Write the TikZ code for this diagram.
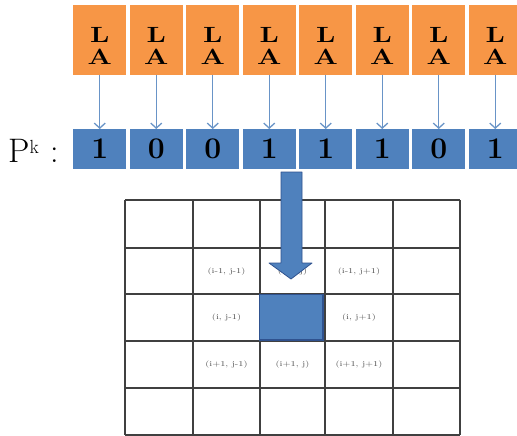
\documentclass[tikz,border=0pt]{standalone}
\usetikzlibrary{arrows.meta}
\definecolor{laorange}{HTML}{F79646}
\definecolor{bitblue}{HTML}{4F81BD}
\definecolor{bitedge}{HTML}{2F528F}
\definecolor{gridgray}{HTML}{404040}
\definecolor{labgray}{HTML}{555555}
\tikzset{
  labox/.style={fill=laorange, draw=none, minimum width=53pt, minimum height=70pt,
    inner sep=0pt, outer sep=0pt},
  latext/.style={inner sep=0pt, anchor=base, font=\fontsize{22}{22}\selectfont\bfseries},
  bitbox/.style={fill=bitblue, draw=none, minimum width=53pt, minimum height=40pt,
    inner sep=0pt, outer sep=0pt, font=\fontsize{30}{30}\selectfont\bfseries},
  feed/.style={draw=bitblue!85!white, line width=1.3pt, -{Straight Barb[length=5pt,width=11pt]}},
  gridline/.style={draw=gridgray, line width=1.3pt},
  cellab/.style={text=labgray, inner sep=0pt, font=\fontsize{7.5}{8}\selectfont},
  bigarrow/.style={fill=bitblue, draw=bitedge, line width=0.8pt, line join=round},
  centercell/.style={fill=bitblue, draw=bitedge, line width=1.5pt}
}
\newcommand{\wide}[1]{\scalebox{1.3}[1]{#1}}
\newcommand{\broad}[1]{\scalebox{1.3}[1]{#1}}
\begin{document}
\begin{tikzpicture}[x=1pt,y=-1pt]
\clip (0,0) rectangle (517,436);
\fill[white] (0,0) rectangle (517,436);

% learning-automata row and the bit vector P^k
\foreach \b [count=\i from 0] in {1,0,0,1,1,1,0,1} {
  \pgfmathsetmacro{\cx}{73+\i*56.5+26.75}
  \node[labox] (o\i) at (\cx,40) {};
  \node[latext] (l\i) at (\cx,43) {\broad{L}};
  \node[latext] (a\i) at (\cx,65) {\broad{A}};
  \node[bitbox] (b\i) at (\cx,149) {\b};
  \draw[feed] (o\i.south) -- (b\i.north);
}
\node[anchor=west, inner sep=0pt] (pk) at (8,151)
  {\fontsize{34}{36}\selectfont P\raisebox{0.28em}{\fontsize{19}{20}\selectfont k}\,\,:};

% 5x5 neighbourhood grid
\foreach \x in {125,193,260,325,393,460} \draw[gridline] (\x,200) -- (\x,435);
\foreach \y in {200,248,294,341,388,435} \draw[gridline] (125,\y) -- (460,\y);

% neighbour coordinates
\node[cellab] (nw) at (226.5,272) {\wide{(i-1, j-1)}};
\node[cellab] (n)  at (292.5,272) {\wide{(i-1, j)}};
\node[cellab] (ne) at (359,272)   {\wide{(i-1, j+1)}};
\node[cellab] (w)  at (226.5,318) {\wide{(i, j-1)}};
\node[cellab] (e)  at (359,318)   {\wide{(i, j+1)}};
\node[cellab] (sw) at (226.5,365) {\wide{(i+1, j-1)}};
\node[cellab] (s)  at (292.5,365) {\wide{(i+1, j)}};
\node[cellab] (se) at (359,365)   {\wide{(i+1, j+1)}};

% current cell
\draw[centercell] (259.5,294.5) rectangle (323,340);

% block arrow from the bit vector into the current cell
\draw[bigarrow] (281,172) -- (302,172) -- (302,263) -- (312,263) -- (291,279)
  -- (269,263) -- (281,263) -- cycle;
\end{tikzpicture}
\end{document}
